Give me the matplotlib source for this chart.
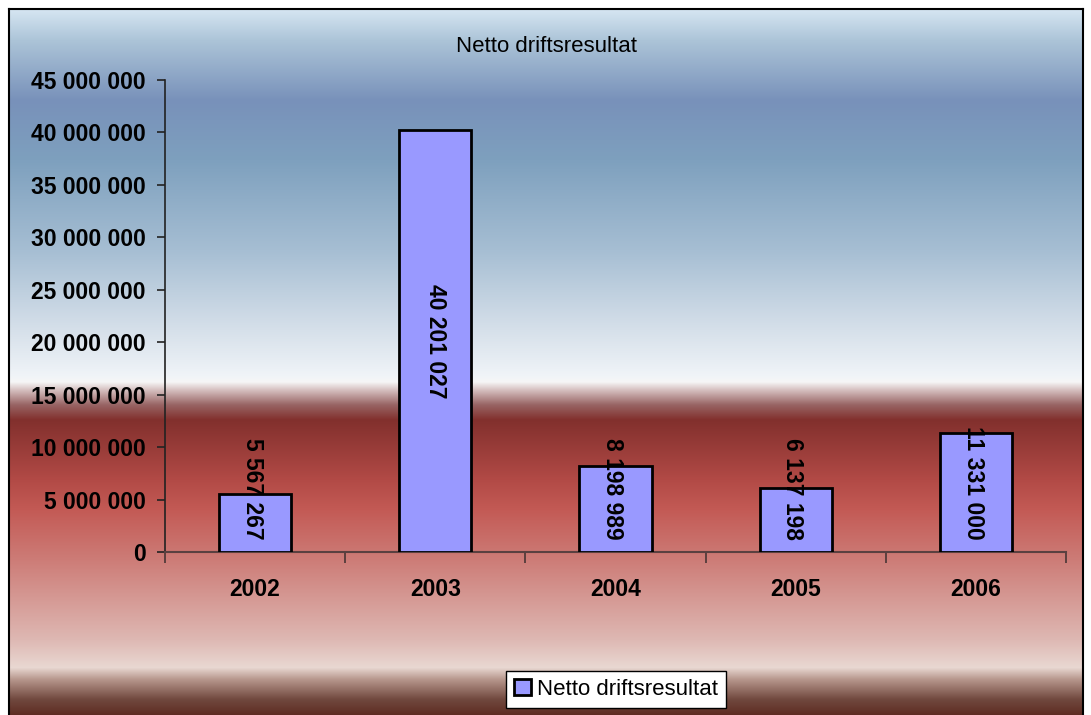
import matplotlib
matplotlib.use("Agg")
import matplotlib.pyplot as plt
import numpy as np

plt.rcParams["font.family"] = ["Liberation Sans", "DejaVu Sans"]

years = ["2002", "2003", "2004", "2005", "2006"]
values = [5567267, 40201027, 8198989, 6137198, 11331000]
series_name = "Netto driftsresultat"
title = "Netto driftsresultat"
yticks = [0, 5000000, 10000000, 15000000, 20000000, 25000000,
          30000000, 35000000, 40000000, 45000000]

W, H = 1091, 715
fig = plt.figure(figsize=(W / 100, H / 100), dpi=100)
fig.patch.set_facecolor("white")

# background gradient (pixel row -> colour), Excel style chart area fill
stops = [
    (9, (214, 230, 242)), (40, (172, 196, 216)), (100, (120, 145, 186)),
    (160, (126, 160, 190)), (250, (166, 190, 211)), (330, (214, 224, 234)),
    (376, (240, 244, 248)), (382, (246, 246, 246)), (390, (214, 192, 192)),
    (405, (152, 100, 100)), (420, (130, 48, 45)), (480, (178, 74, 70)),
    (510, (195, 90, 85)), (560, (205, 124, 119)), (640, (222, 184, 179)),
    (668, (233, 216, 210)), (680, (182, 150, 140)), (700, (112, 72, 62)),
    (715, (95, 45, 35)),
]
rows = np.arange(9, 716)
sy = [s[0] for s in stops]
grad = np.zeros((len(rows), 1, 3))
for c in range(3):
    grad[:, 0, c] = np.interp(rows, sy, [s[1][c] for s in stops]) / 255.0

bg = fig.add_axes([9 / W, 0, (1083 - 9) / W, (H - 9) / H])
bg.imshow(grad, aspect="auto", extent=[0, 1, 0, 1])
bg.set_xticks([])
bg.set_yticks([])
for side in ["left", "top", "right"]:
    bg.spines[side].set_color("black")
    bg.spines[side].set_linewidth(1.5)
bg.spines["bottom"].set_visible(False)
bg.set_zorder(-1)

ax = fig.add_axes([165 / W, 1 - 552 / H, (1066 - 165) / W, (552 - 80) / H])
ax.patch.set_alpha(0)

x = np.arange(len(years))
bars = ax.bar(x, values, width=0.4, color="#9999FF", edgecolor="black",
              linewidth=2, label=series_name, zorder=3)

ax.set_xlim(-0.5, len(years) - 0.5)
ax.set_ylim(0, 45000000)

ax.set_yticks(yticks)
ax.set_yticklabels([f"{v:,}".replace(",", " ") for v in yticks],
                   fontsize=16.5, fontweight="bold")
ax.tick_params(axis="y", direction="out", length=6, width=1.2,
               color="#222222", pad=8)

ax.set_xticks(np.arange(-0.5, len(years), 1.0))
ax.set_xticklabels([])
ax.set_xticks(x, minor=True)
ax.set_xticklabels(years, minor=True, fontsize=16.5, fontweight="bold")
ax.tick_params(axis="x", which="major", direction="out", length=8,
               width=1.2, color="#4a3535")
ax.tick_params(axis="x", which="minor", length=0, pad=19)

for side in ["top", "right"]:
    ax.spines[side].set_visible(False)
ax.spines["left"].set_color("#222222")
ax.spines["left"].set_linewidth(1.2)
ax.spines["bottom"].set_color("#5a4040")
ax.spines["bottom"].set_linewidth(1.5)

for xi, v in zip(x, values):
    txt = f"{v:,}".replace(",", " ")
    if v > 15000000:
        ax.text(xi, v / 2, txt, rotation=-90, ha="center", va="center",
                fontsize=16.5, fontweight="bold", zorder=4)
    else:
        ax.text(xi - 0.015, 1140000, txt, rotation=-90, ha="center",
                va="bottom", fontsize=16.5, fontweight="bold", zorder=4)

fig.text(546.5 / W, 1 - 46 / H, title, ha="center", va="center", fontsize=16)

leg = fig.legend(handles=[bars], labels=[series_name], loc="center",
                 bbox_to_anchor=(616 / W, 1 - 689.5 / H), fontsize=16,
                 fancybox=False, framealpha=1, edgecolor="black",
                 handlelength=0.75, handleheight=0.75, handletextpad=0.3,
                 borderpad=0.35, borderaxespad=0)
leg.get_frame().set_linewidth(1.0)

fig.savefig("out.png", dpi=100)
